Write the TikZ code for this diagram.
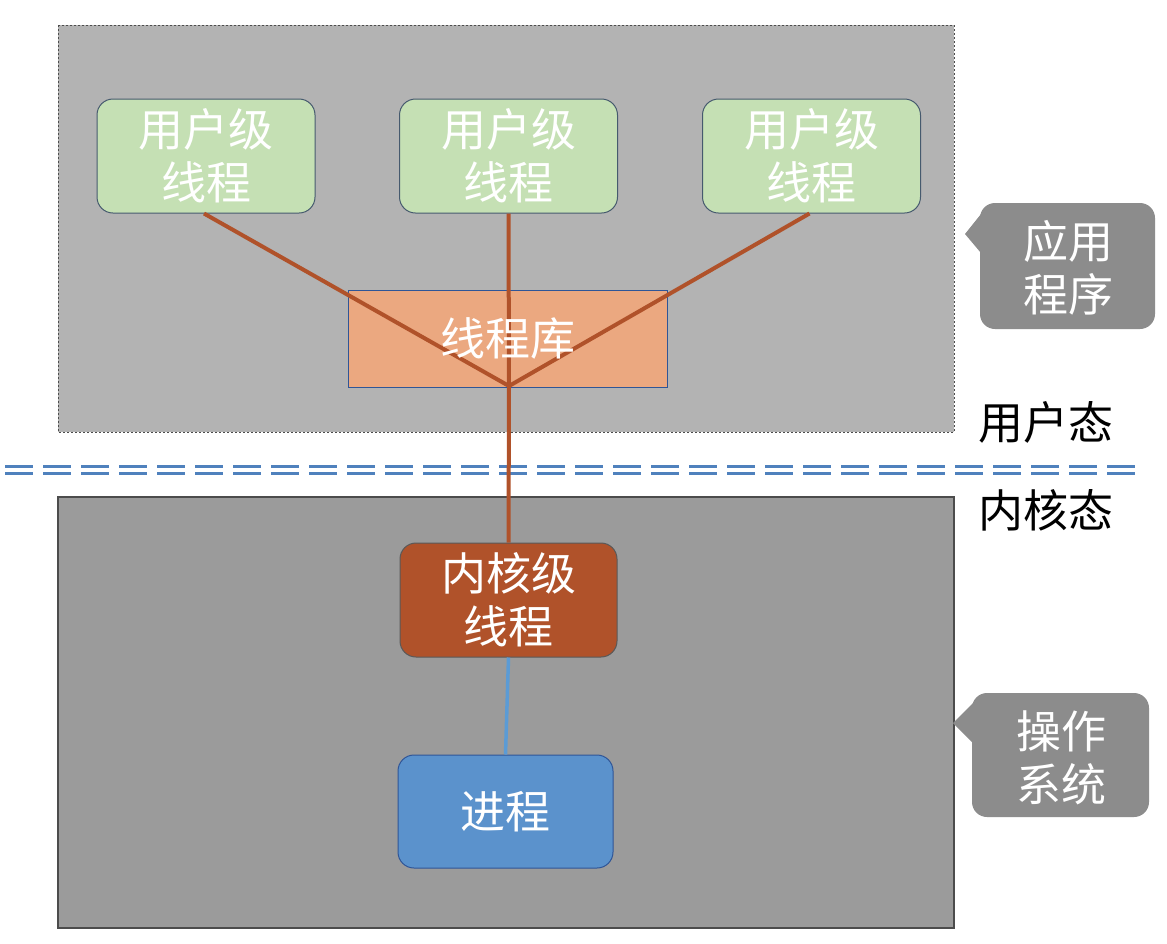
\documentclass[tikz,border=0pt]{standalone}
\usepackage{fontspec}
\setmainfont{Noto Sans CJK SC}
\definecolor{topbg}{RGB}{179,179,179}
\definecolor{botbg}{RGB}{155,155,155}
\definecolor{ugreen}{RGB}{197,224,180}
\definecolor{libfill}{RGB}{235,168,128}
\definecolor{kfill}{RGB}{176,82,42}
\definecolor{pfill}{RGB}{91,146,204}
\definecolor{brownline}{RGB}{176,82,42}
\definecolor{blueline}{RGB}{91,155,213}
\definecolor{dashblue}{RGB}{79,129,189}
\definecolor{calloutfill}{RGB}{140,140,140}
\definecolor{boxborder}{RGB}{70,90,110}
\definecolor{libborder}{RGB}{47,85,151}
\begin{document}
\begin{tikzpicture}[x=1pt,y=-1pt,
  bigtxt/.style={font=\fontsize{45}{53}\selectfont},
  ubox/.style={draw=boxborder,line width=1pt,fill=ugreen,rounded corners=16pt,
    minimum width=218pt,minimum height=114pt,text=white,align=center,bigtxt,inner sep=0pt},
  kbox/.style={draw=gray!70!black,line width=1pt,fill=kfill,rounded corners=16pt,
    minimum width=217pt,minimum height=114pt,text=white,align=center,bigtxt,inner sep=0pt},
  pbox/.style={draw=libborder,line width=1pt,fill=pfill,rounded corners=16pt,
    minimum width=215pt,minimum height=113pt,text=white,align=center,bigtxt,inner sep=0pt},
  libbox/.style={draw=libborder,line width=1pt,fill=libfill,
    minimum width=319pt,minimum height=97pt,text=white,align=center,bigtxt,inner sep=0pt},
  conn/.style={draw=brownline,line width=4pt},
  conb/.style={draw=blueline,line width=3.5pt},
  callout/.style={fill=calloutfill,rounded corners=15pt},
  calltxt/.style={text=white,align=center,bigtxt},
  plain/.style={text=black,bigtxt}
]
\useasboundingbox (0,0) rectangle (1167,943);
\fill[white] (0,0) rectangle (1167,943);
% regions
\draw[fill=topbg,draw=black!70,dash pattern=on 2pt off 2pt,line width=0.8pt] (58,25) rectangle (954,432);
\draw[fill=botbg,draw=black!70,line width=1.2pt] (58,497) rectangle (954,928);
% double dashed separator
\draw[dashblue,line width=3pt,dash pattern=on 28pt off 10pt] (5,466) -- (1140,466);
\draw[dashblue,line width=3pt,dash pattern=on 28pt off 10pt] (5,473) -- (1140,473);
% nodes
\node[libbox] (lib) at (507.5,338.5) {};
\node[ubox] (u1) at (206,156) {用户级\\线程};
\node[ubox] (u2) at (508.5,156) {用户级\\线程};
\node[ubox] (u3) at (811.5,156) {用户级\\线程};
\coordinate (hub) at (509,386);
\coordinate (u1b) at ([xshift=-2pt]u1.south);
\coordinate (u3b) at ([xshift=-2pt]u3.south);
\node[kbox] (k) at (508.5,600) {内核级\\线程};
\node[pbox] (p) at (505.5,811.5) {进程};
% connectors
\draw[conn] (u1b) -- (hub);
\draw[conn] (u2.south) -- (hub);
\draw[conn] (u3b) -- (hub);
\draw[conn] (hub) -- (k.north);
% library text on top of lines
\node[text=white,bigtxt] (libtxt) at (lib.center) {线程库};
\draw[conb] (k.south) -- (p.north);
% callouts
\fill[callout] (980,203) rectangle (1155,329);
\fill[calloutfill] (981,214) -- (965,234) -- (981,253) -- cycle;
\node[calltxt] (c1) at (1068,268) {应用\\程序};
\fill[callout] (972,693) rectangle (1149,817);
\fill[calloutfill] (973,703) -- (953,723) -- (973,743) -- cycle;
\node[calltxt] (c2) at (1061,758) {操作\\系统};
% state labels
\node[plain] (ut) at (1046,422) {用户态};
\node[plain] (kt) at (1046,510) {内核态};
\end{tikzpicture}
\end{document}
